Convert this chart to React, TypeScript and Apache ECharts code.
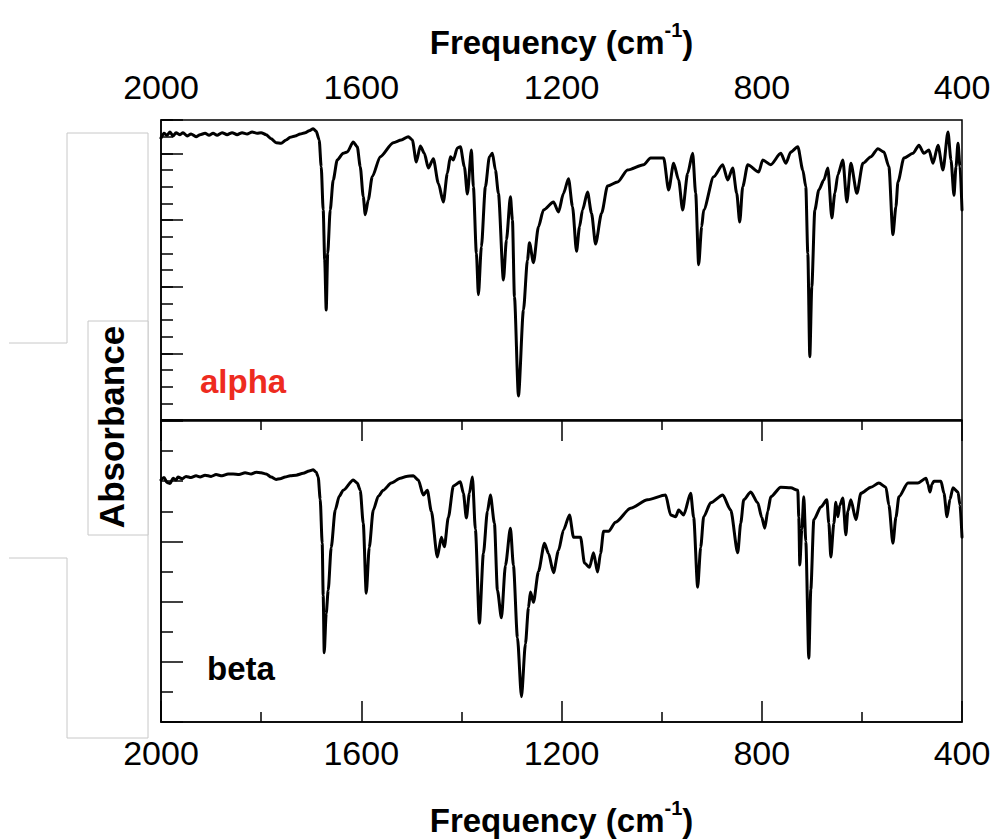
import React, { useEffect, useRef } from 'react';
import * as echarts from 'echarts';

const FONT = "'Liberation Sans', Arial, Helvetica, sans-serif";

// Frequency axis (cm-1), reversed: 2000 on the left, 400 on the right
const freqMin = 400;
const freqMax = 2000;
const freqStep = 400;

const panelLabels = ['alpha', 'beta'];

// alpha spectrum: [frequency (cm-1), absorbance offset]
const alphaSpectrum: [number, number][] = [
  [2000, 4.23], [1994, 4.30], [1988, 4.27], [1982, 4.32], [1976, 4.26], [1970, 4.31],
  [1962, 4.28], [1956, 4.31], [1948, 4.26], [1940, 4.29], [1930, 4.25], [1922, 4.28],
  [1912, 4.30], [1904, 4.27], [1896, 4.30], [1888, 4.27], [1878, 4.31], [1868, 4.28],
  [1858, 4.31], [1848, 4.28], [1838, 4.31], [1828, 4.29], [1818, 4.32], [1808, 4.30],
  [1800, 4.31], [1790, 4.28], [1780, 4.22], [1770, 4.16], [1760, 4.15], [1750, 4.20],
  [1742, 4.24], [1732, 4.26], [1722, 4.29], [1712, 4.31], [1704, 4.34], [1696, 4.37],
  [1690, 4.33], [1684, 4.20], [1680, 3.80], [1676, 3.15], [1673, 2.40], [1670, 1.65],
  [1667, 2.50], [1662, 3.15], [1656, 3.60], [1648, 3.90], [1636, 4.00], [1628, 4.02],
  [1616, 4.17], [1608, 4.10], [1602, 3.80], [1596, 3.35], [1592, 3.08], [1586, 3.30],
  [1578, 3.65], [1562, 3.95], [1536, 4.16], [1520, 4.20], [1506, 4.25], [1498, 4.20],
  [1490, 3.87], [1482, 4.11], [1474, 4.00], [1466, 3.78], [1456, 3.92], [1446, 3.55],
  [1436, 3.27], [1428, 3.70], [1422, 3.95], [1416, 3.90], [1408, 4.08], [1402, 4.10],
  [1394, 3.80], [1388, 3.39], [1380, 4.05], [1376, 3.50], [1370, 2.50], [1366, 1.88],
  [1360, 2.60], [1352, 3.50], [1344, 3.95], [1338, 4.00], [1332, 3.75], [1326, 3.40],
  [1316, 2.10], [1310, 2.70], [1302, 3.35], [1298, 3.00], [1294, 1.85], [1286, 0.36],
  [1276, 1.65], [1268, 2.40], [1264, 2.66], [1256, 2.36], [1246, 2.90], [1236, 3.15],
  [1216, 3.27], [1206, 3.12], [1196, 3.40], [1186, 3.62], [1178, 3.20], [1170, 2.53],
  [1164, 2.90], [1158, 3.15], [1148, 3.42], [1140, 3.10], [1132, 2.64], [1120, 3.10],
  [1108, 3.51], [1088, 3.57], [1068, 3.75], [1036, 3.83], [1022, 3.93], [996, 3.93],
  [986, 3.45], [976, 3.85], [966, 3.60], [958, 3.15], [948, 3.70], [938, 4.00],
  [932, 3.40], [926, 2.33], [920, 2.90], [916, 3.15], [896, 3.65], [878, 3.83],
  [868, 3.60], [858, 3.78], [850, 3.40], [844, 2.97], [838, 3.50], [828, 3.83],
  [806, 3.72], [798, 3.90], [782, 3.83], [762, 4.00], [752, 3.85], [742, 4.02],
  [728, 4.10], [718, 3.75], [712, 3.50], [708, 2.50], [704, 0.95], [700, 2.00],
  [694, 3.15], [686, 3.45], [676, 3.60], [668, 3.78], [660, 3.03], [654, 3.40],
  [648, 3.68], [638, 3.90], [630, 3.27], [622, 3.85], [610, 3.40], [598, 3.85],
  [582, 3.95], [568, 4.07], [556, 4.02], [546, 3.80], [538, 2.78], [532, 3.20],
  [528, 3.57], [516, 3.93], [498, 4.00], [486, 4.12], [476, 4.00], [466, 4.05],
  [458, 3.85], [448, 4.12], [438, 3.75], [428, 4.32], [422, 3.90], [416, 3.37],
  [412, 3.80], [408, 4.15], [404, 3.80], [400, 3.15],
];

// beta spectrum: [frequency (cm-1), absorbance offset]
const betaSpectrum: [number, number][] = [
  [2000, 4.02], [1994, 4.06], [1988, 3.98], [1982, 3.96], [1976, 4.05], [1970, 4.02],
  [1966, 4.07], [1958, 4.04], [1950, 4.08], [1940, 4.06], [1930, 4.09], [1922, 4.07],
  [1912, 4.10], [1900, 4.08], [1890, 4.11], [1878, 4.09], [1866, 4.12], [1856, 4.12],
  [1844, 4.11], [1832, 4.14], [1820, 4.12], [1810, 4.15], [1800, 4.14], [1790, 4.12],
  [1780, 4.07], [1770, 4.03], [1762, 4.04], [1752, 4.07], [1742, 4.09], [1730, 4.10],
  [1716, 4.13], [1704, 4.17], [1696, 4.19], [1690, 4.15], [1686, 4.07], [1682, 3.70],
  [1678, 2.97], [1676, 2.10], [1674, 1.15], [1670, 1.80], [1666, 2.19], [1660, 2.90],
  [1652, 3.52], [1644, 3.75], [1636, 3.85], [1616, 4.02], [1608, 3.97], [1602, 3.85],
  [1596, 3.30], [1590, 2.14], [1584, 2.90], [1576, 3.52], [1566, 3.75], [1556, 3.85],
  [1540, 3.97], [1522, 4.05], [1510, 4.08], [1496, 4.09], [1486, 4.02], [1476, 3.77],
  [1468, 3.85], [1460, 3.50], [1448, 2.74], [1440, 3.07], [1434, 2.91], [1426, 3.40],
  [1416, 3.92], [1402, 3.99], [1396, 3.80], [1390, 3.39], [1384, 3.80], [1378, 4.07],
  [1372, 3.20], [1364, 1.64], [1356, 2.80], [1348, 3.50], [1342, 3.77], [1334, 3.30],
  [1328, 2.19], [1320, 1.73], [1312, 2.60], [1302, 3.22], [1296, 2.60], [1288, 1.40],
  [1280, 0.42], [1272, 1.30], [1266, 1.90], [1262, 2.16], [1256, 1.99], [1246, 2.50],
  [1234, 2.97], [1226, 2.80], [1216, 2.48], [1206, 2.85], [1196, 3.19], [1184, 3.44],
  [1176, 3.07], [1162, 3.07], [1154, 2.64], [1144, 2.57], [1136, 2.81], [1128, 2.49],
  [1122, 2.80], [1116, 3.17], [1106, 3.17], [1092, 3.32], [1062, 3.55], [1028, 3.69],
  [992, 3.77], [982, 3.44], [972, 3.41], [966, 3.52], [956, 3.44], [942, 3.80],
  [936, 3.40], [928, 2.24], [922, 2.90], [916, 3.41], [902, 3.64], [878, 3.77],
  [862, 3.52], [848, 2.81], [842, 3.30], [836, 3.69], [822, 3.82], [808, 3.64],
  [800, 3.40], [794, 3.22], [788, 3.50], [782, 3.74], [762, 3.90], [742, 3.89],
  [728, 3.85], [726, 3.40], [724, 2.61], [720, 3.20], [716, 3.74], [712, 3.00],
  [706, 1.06], [702, 2.20], [696, 3.36], [682, 3.57], [670, 3.69], [666, 3.30],
  [662, 2.74], [656, 3.30], [652, 3.65], [648, 3.41], [644, 3.60], [638, 3.72],
  [632, 3.11], [628, 3.50], [622, 3.69], [612, 3.36], [602, 3.80], [582, 3.90],
  [566, 3.97], [552, 3.90], [546, 3.60], [538, 2.97], [532, 3.40], [526, 3.74],
  [508, 3.97], [488, 3.97], [472, 4.05], [468, 3.95], [464, 3.82], [460, 3.95],
  [456, 4.00], [442, 4.00], [436, 3.80], [430, 3.41], [424, 3.70], [418, 3.89],
  [408, 3.82], [404, 3.60], [400, 3.07],
];

const titleRich = {
  t: { fontSize: 33, fontWeight: 'bold', fontFamily: FONT, color: '#000', verticalAlign: 'bottom', padding: [6, 0, 0, 0] },
  s: { fontSize: 20, fontWeight: 'bold', fontFamily: FONT, color: '#000', verticalAlign: 'top' },
};
const freqName = '{t|Frequency (cm}{s|-1}{t|)}';

const black = { color: '#000', width: 1.5 };

function freqAxis(gridIndex: number, position: 'top' | 'bottom', nameGap: number, margin: number) {
  return {
    type: 'value',
    gridIndex,
    position,
    min: freqMin,
    max: freqMax,
    interval: freqStep,
    inverse: true,
    axisLine: { show: true, lineStyle: black },
    axisTick: { show: true, inside: true, length: 21, lineStyle: black },
    minorTick: { show: true, splitNumber: 2, length: 10, lineStyle: black },
    splitLine: { show: false },
    minorSplitLine: { show: false },
    axisLabel: {
      show: true,
      fontSize: 34,
      color: '#000',
      fontFamily: FONT,
      margin,
      formatter: (v: number) => String(v),
    },
    name: freqName,
    nameLocation: 'middle',
    nameGap,
    nameTextStyle: { rich: titleRich },
  };
}

function absAxis(gridIndex: number, max: number, interval: number, tickLen: number, minorSplit: number, showLine: boolean) {
  return {
    type: 'value',
    gridIndex,
    position: 'left',
    min: 0,
    max,
    interval,
    axisLine: { show: showLine, lineStyle: black },
    axisTick: { show: true, inside: true, length: tickLen, lineStyle: black },
    minorTick: { show: minorSplit > 0, splitNumber: minorSplit || 2, length: 12, lineStyle: black },
    splitLine: { show: false },
    axisLabel: { show: false },
  };
}

export default function App() {
  const ref = useRef<HTMLDivElement>(null);

  useEffect(() => {
    if (!ref.current) return;
    const chart = echarts.init(ref.current, null, { renderer: 'svg' });
    const gray = { stroke: '#c8c8c8', lineWidth: 1, fill: 'none' };
    const spectrumLine = { color: '#000', width: 3, join: 'round', cap: 'round' };
    chart.setOption({
      animation: false,
      backgroundColor: '#fff',
      grid: [
        { left: 161, top: 120, width: 801, height: 300, show: true, borderColor: '#000', borderWidth: 1.5, containLabel: false },
        { left: 161, top: 421, width: 801, height: 301, show: true, borderColor: '#000', borderWidth: 1.5, containLabel: false },
      ],
      xAxis: [freqAxis(0, 'top', 61, 16), freqAxis(1, 'bottom', 76, 14)],
      yAxis: [
        absAxis(0, 4.5, 1, 22, 0, true),
        absAxis(0, 4.5, 0.25, 12, 0, false),
        absAxis(1, 5, 1, 22, 2, true),
      ],
      series: [
        {
          name: panelLabels[0],
          type: 'line',
          xAxisIndex: 0,
          yAxisIndex: 0,
          data: alphaSpectrum,
          showSymbol: false,
          smooth: 0.25,
          smoothMonotone: 'x',
          lineStyle: spectrumLine,
          clip: true,
        },
        {
          name: panelLabels[1],
          type: 'line',
          xAxisIndex: 1,
          yAxisIndex: 2,
          data: betaSpectrum,
          showSymbol: false,
          smooth: 0.25,
          smoothMonotone: 'x',
          lineStyle: spectrumLine,
          clip: true,
        },
      ],
      graphic: [
        {
          type: 'polyline',
          silent: true,
          shape: { points: [[9, 343], [67, 343], [67, 133], [148, 133], [148, 738], [67, 738], [67, 558], [9, 558]] },
          style: gray,
        },
        {
          type: 'rect',
          silent: true,
          shape: { x: 88, y: 321, width: 60, height: 214 },
          style: { stroke: '#c8c8c8', lineWidth: 1, fill: '#fff' },
        },
        {
          type: 'text',
          silent: true,
          x: 111,
          y: 427,
          rotation: Math.PI / 2,
          style: {
            text: 'Absorbance',
            fontSize: 35,
            fontWeight: 'bold',
            fontFamily: FONT,
            fill: '#000',
            align: 'center',
            verticalAlign: 'middle',
          },
        },
        {
          type: 'text',
          silent: true,
          x: 200,
          y: 381,
          style: {
            text: panelLabels[0],
            fontSize: 33,
            fontWeight: 'bold',
            fontFamily: FONT,
            fill: '#ee2b1f',
            align: 'left',
            verticalAlign: 'middle',
          },
        },
        {
          type: 'text',
          silent: true,
          x: 207,
          y: 668,
          style: {
            text: panelLabels[1],
            fontSize: 33,
            fontWeight: 'bold',
            fontFamily: FONT,
            fill: '#000',
            align: 'left',
            verticalAlign: 'middle',
          },
        },
      ],
    });
    return () => chart.dispose();
  }, []);

  return <div ref={ref} style={{ position: 'fixed', left: 0, top: 0, width: 997, height: 840 }} />;
}
